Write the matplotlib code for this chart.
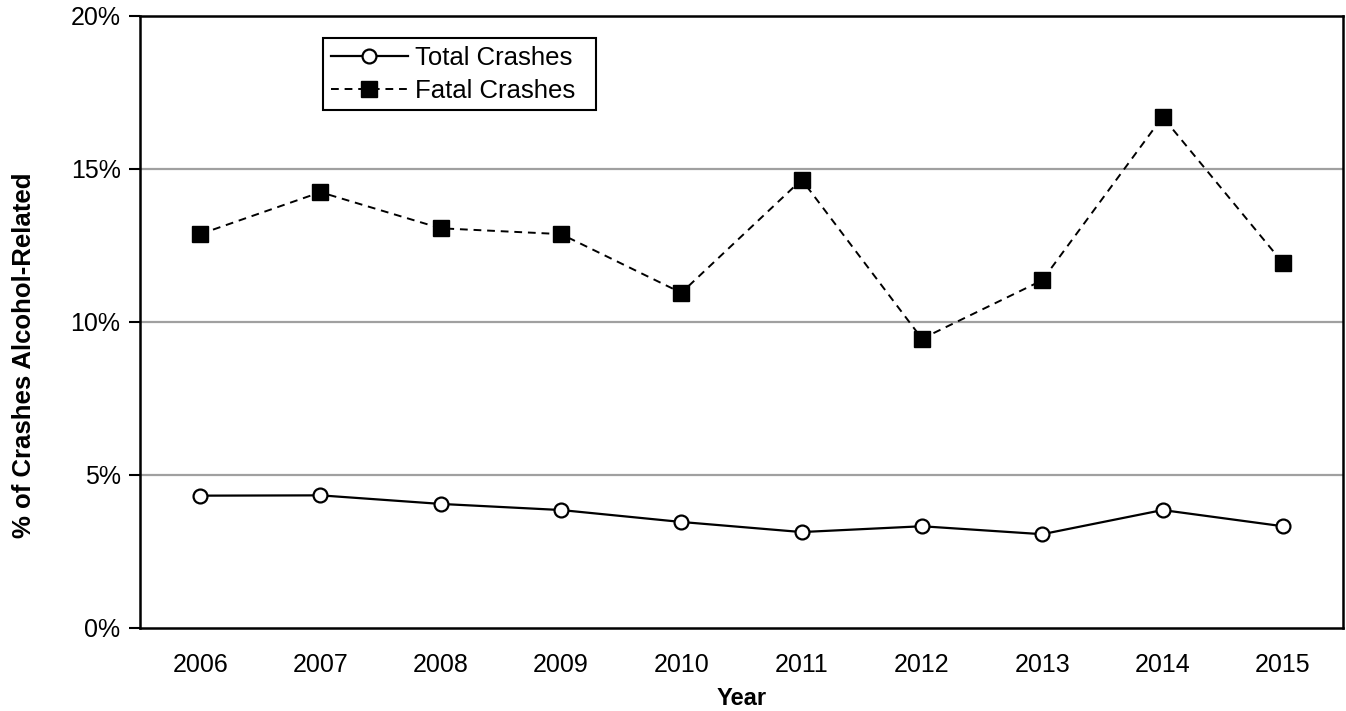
import matplotlib
matplotlib.use("Agg")
import matplotlib.pyplot as plt
from matplotlib.ticker import FuncFormatter

plt.rcParams["font.family"] = ["Liberation Sans", "DejaVu Sans"]

# -----------------------------
# Data (percent of crashes alcohol-related)
# -----------------------------
years = ["2006", "2007", "2008", "2009", "2010",
         "2011", "2012", "2013", "2014", "2015"]
total_crashes = [4.32, 4.33, 4.05, 3.85, 3.46, 3.13, 3.32, 3.06, 3.85, 3.32]
fatal_crashes = [12.87, 14.24, 13.06, 12.87, 10.95, 14.65, 9.45, 11.36, 16.70, 11.93]
y_ticks = [0, 5, 10, 15, 20]

# -----------------------------
# Plot
# -----------------------------
fig = plt.figure(figsize=(13.46, 7.11), dpi=100)
ax = fig.add_axes([0.104, 0.117, 0.8938, 0.8605])

x = range(len(years))
ax.plot(x, total_crashes, color="black", linewidth=1.6, marker="o",
        markersize=10, markerfacecolor="white", markeredgecolor="black",
        markeredgewidth=1.6, label="Total Crashes", zorder=3)
ax.plot(x, fatal_crashes, color="black", linewidth=1.4, linestyle=(0, (4, 3)),
        marker="s", markersize=11, markerfacecolor="black",
        markeredgecolor="black", label="Fatal Crashes", zorder=3)

ax.set_xlim(-0.5, len(years) - 0.5)
ax.set_ylim(0, 20)
ax.set_xticks(list(x))
ax.set_xticklabels(years)
ax.set_yticks(y_ticks)
ax.yaxis.set_major_formatter(FuncFormatter(lambda v, p: f"{v:.0f}%"))

# gridlines only at the interior ticks
for level in y_ticks[1:-1]:
    ax.axhline(level, color="#a0a0a0", linewidth=1.6, zorder=1)

for spine in ax.spines.values():
    spine.set_linewidth(1.8)
    spine.set_color("black")

ax.tick_params(axis="x", length=0, labelsize=18, pad=18)
ax.tick_params(axis="y", length=8, width=1.5, labelsize=18, pad=6, direction="out")

ax.set_xlabel("Year", fontsize=17, fontweight="bold", labelpad=7)
ax.set_ylabel("% of Crashes Alcohol-Related", fontsize=18.5, fontweight="bold")
ax.yaxis.set_label_coords(-0.0865, 0.446)

leg = ax.legend(loc="upper left", bbox_to_anchor=(0.152, 0.964, 0.227, 0.0),
                mode="expand", borderaxespad=0,
                fontsize=18.5, frameon=True, fancybox=False, framealpha=1,
                edgecolor="black", handlelength=3.0, handletextpad=0.3,
                labelspacing=0.35, borderpad=0.3)
leg.get_frame().set_linewidth(1.5)

fig.savefig("out.png", dpi=100)
